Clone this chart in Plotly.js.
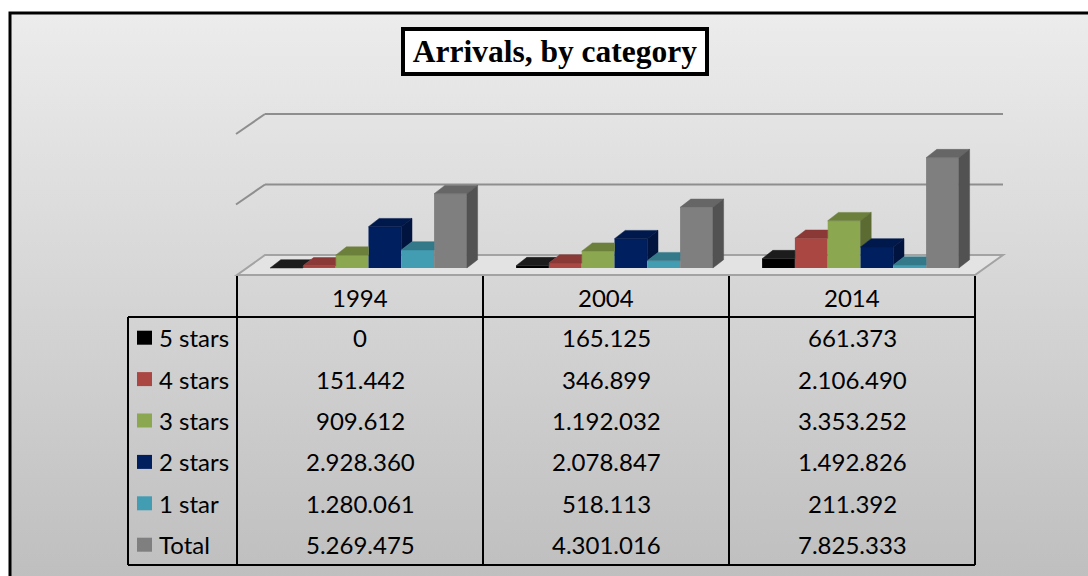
<!DOCTYPE html>
<html>
<head>
<meta charset="utf-8">
<script src="https://cdn.plot.ly/plotly-3.0.1.min.js"></script>
<style>
html,body{margin:0;padding:0;background:#fff;overflow:hidden;}
#chart{width:1088px;height:576px;}
</style>
</head>
<body>
<div id="chart"></div>
<script>
// ---------------- DATA ----------------
const categories = ['1994', '2004', '2014'];
const seriesNames = ['5 stars', '4 stars', '3 stars', '2 stars', '1 star', 'Total'];
const fiveStars  = [0, 165125, 661373];
const fourStars  = [151442, 346899, 2106490];
const threeStars = [909612, 1192032, 3353252];
const twoStars   = [2928360, 2078847, 1492826];
const oneStar    = [1280061, 518113, 211392];
const total      = [5269475, 4301016, 7825333];
const gridValues = [0, 5000000, 10000000];
const titleText  = 'Arrivals, by category';

const seriesValues = [fiveStars, fourStars, threeStars, twoStars, oneStar, total];

// ---------------- STYLE / GEOMETRY ----------------
const frontColors = ['#000000', '#AB4743', '#8BA74F', '#001F5E', '#429DB3', '#7F7F7F'];
const topColors   = ['#1c1c1c', '#8A3936', '#6C803C', '#00194C', '#33798A', '#666666'];
const sideColors  = ['#0f0f0f', '#722F2C', '#5B6B32', '#00143F', '#2B6776', '#525252'];

const W = 1088, H = 576;
const X0PX = 368.5, PXX = 246;        // pixel of first category centre, px per category
const Y0PX = 268, PXM = 14.1 / 1e6;   // pixel of value 0 (bar front base), px per unit value
const xr = [-X0PX / PXX, (W - X0PX) / PXX];
const yr = [-(H - Y0PX) / PXM, Y0PX / PXM];
const BARGAP = 0.2;
const DDX_PX = 10.7, DDY_PX = 8.3;     // bar depth projection
const PX = x => x / W;
const PY = y => 1 - y / H;

const fmt = v => String(v).replace(/\B(?=(\d{3})+(?!\d))/g, '.');

const xpos = categories.map((c, i) => i);

// ---------------- TRACES ----------------
const traces = [];
seriesNames.forEach((name, j) => {
  traces.push({
    type: 'bar', name: name, x: xpos, y: seriesValues[j],
    marker: {color: frontColors[j], line: {width: 0}},
    hoverinfo: 'skip', showlegend: false
  });
});

const nS = seriesNames.length;
const w = (1 - BARGAP) / nS;
const ddx = DDX_PX / PXX, ddy = DDY_PX / PXM;

seriesNames.forEach((name, j) => {
  const tx = [], ty = [], sx = [], sy = [];
  const vals = seriesValues[j];
  xpos.forEach((xc, i) => {
    const x0 = xc - (1 - BARGAP) / 2 + j * w;
    const x1 = x0 + w;
    const v = vals[i];
    const next = j < nS - 1 ? seriesValues[j + 1][i] : null;
    // top face
    let pts;
    if (next === null || next <= v) {
      pts = [[x0, v], [x1, v], [x1 + ddx, v + ddy], [x0 + ddx, v + ddy]];
    } else {
      const a = Math.min(next, v + ddy);
      const b = x1 + ddx * Math.max(0, v + ddy - next) / ddy;
      pts = [[x0, v], [x1, v], [x1, a], [b, v + ddy], [x0 + ddx, v + ddy]];
    }
    pts.push(pts[0]);
    pts.forEach(p => { tx.push(p[0]); ty.push(p[1]); });
    tx.push(null); ty.push(null);
    // side face
    const lo = next === null ? 0 : Math.max(next, 0);
    if (v > lo) {
      const sp = [[x1, lo], [x1, v], [x1 + ddx, v + ddy], [x1 + ddx, lo + ddy], [x1, lo]];
      sp.forEach(p => { sx.push(p[0]); sy.push(p[1]); });
      sx.push(null); sy.push(null);
    }
  });
  traces.push({
    type: 'scatter', mode: 'lines', x: tx, y: ty, fill: 'toself',
    fillcolor: topColors[j], line: {width: 0.5, color: topColors[j]},
    hoverinfo: 'skip', showlegend: false
  });
  if (sx.length) {
    traces.push({
      type: 'scatter', mode: 'lines', x: sx, y: sy, fill: 'toself',
      fillcolor: sideColors[j], line: {width: 0.5, color: sideColors[j]},
      hoverinfo: 'skip', showlegend: false
    });
  }
});

// ---------------- SHAPES ----------------
const shapes = [];
// floor
const FL = {fx0: 237, fx1: 975, fy: 275, bx0: 265, bx1: 1003, by: 255};
shapes.push({
  type: 'path', xref: 'paper', yref: 'paper', layer: 'below',
  path: `M ${PX(FL.fx0)},${PY(FL.fy)} L ${PX(FL.fx1)},${PY(FL.fy)} L ${PX(FL.bx1)},${PY(FL.by)} L ${PX(FL.bx0)},${PY(FL.by)} Z`,
  fillcolor: '#e3e3e3', line: {color: '#a3a3a3', width: 2}
});
// back-wall gridlines + left stubs
const backOff = (Y0PX - FL.by) / PXM;
const stubOff = (FL.fy - FL.by) / PXM;
gridValues.forEach(v => {
  if (v === 0) return;
  shapes.push({type: 'line', xref: 'paper', yref: 'y', layer: 'below',
    x0: PX(FL.bx0), x1: PX(FL.bx1), y0: v + backOff, y1: v + backOff,
    line: {color: '#8e8e8e', width: 2}});
  shapes.push({type: 'line', xref: 'paper', yref: 'y', layer: 'below',
    x0: PX(FL.fx0 - 1), x1: PX(FL.bx0), y0: v + backOff - stubOff, y1: v + backOff,
    line: {color: '#8e8e8e', width: 2}});
});
// outer frame
shapes.push({type: 'rect', xref: 'paper', yref: 'paper', layer: 'below',
  x0: PX(10), x1: PX(1110), y0: PY(13), y1: PY(600),
  line: {color: '#000', width: 3}, fillcolor: 'rgba(0,0,0,0)'});

// data table
const T = {labL: 128, colL: 237, colW: 246, top: 276, hdrB: 317, bot: 565, rowH: 41.4};
const nC = categories.length;
const tableR = T.colL + nC * T.colW;
const black = {color: '#000', width: 2};
for (let c = 0; c <= nC; c++) {
  const x = T.colL + c * T.colW;
  shapes.push({type: 'line', xref: 'paper', yref: 'paper', x0: PX(x), x1: PX(x), y0: PY(T.top), y1: PY(T.bot), line: black});
}
shapes.push({type: 'line', xref: 'paper', yref: 'paper', x0: PX(T.labL), x1: PX(T.labL), y0: PY(T.hdrB), y1: PY(T.bot), line: black});
shapes.push({type: 'line', xref: 'paper', yref: 'paper', x0: PX(T.labL), x1: PX(tableR), y0: PY(T.hdrB), y1: PY(T.hdrB), line: black});
shapes.push({type: 'line', xref: 'paper', yref: 'paper', x0: PX(T.labL), x1: PX(tableR), y0: PY(T.bot), y1: PY(T.bot), line: black});

// ---------------- ANNOTATIONS ----------------
const annotations = [];
annotations.push({
  xref: 'paper', yref: 'paper', x: PX(555), y: PY(51.5), xanchor: 'center', yanchor: 'middle',
  text: '<b>' + titleText + '</b>', showarrow: false,
  font: {family: 'Liberation Serif, Times New Roman, serif', size: 31.5, color: '#000'},
  bgcolor: '#ffffff', bordercolor: '#000', borderwidth: 4, borderpad: 0, width: 300, height: 41
});
const cellFont = {family: 'Lato, Open Sans, sans-serif', size: 24, color: '#000'};
categories.forEach((c, i) => {
  annotations.push({xref: 'paper', yref: 'paper', x: PX(T.colL + (i + 0.5) * T.colW), y: PY((T.top + T.hdrB) / 2 + 1),
    xanchor: 'center', yanchor: 'middle', text: c, showarrow: false, font: cellFont});
});
seriesNames.forEach((name, j) => {
  const yc = T.hdrB + (j + 0.5) * T.rowH;
  shapes.push({type: 'rect', xref: 'paper', yref: 'paper', x0: PX(137), x1: PX(152), y0: PY(yc - 7), y1: PY(yc + 7),
    fillcolor: frontColors[j], line: {width: 0}});
  annotations.push({xref: 'paper', yref: 'paper', x: PX(157), y: PY(yc), xanchor: 'left', yanchor: 'middle',
    text: name, showarrow: false, font: cellFont});
  seriesValues[j].forEach((v, i) => {
    annotations.push({xref: 'paper', yref: 'paper', x: PX(T.colL + (i + 0.5) * T.colW), y: PY(yc),
      xanchor: 'center', yanchor: 'middle', text: fmt(v), showarrow: false, font: cellFont});
  });
});

// ---------------- BACKGROUND GRADIENT ----------------
const svg = "<svg xmlns='http://www.w3.org/2000/svg' width='100' height='100' preserveAspectRatio='none'>" +
  "<defs><linearGradient id='g' x1='0' y1='0' x2='0' y2='1'>" +
  "<stop offset='0' stop-color='#ececec'/><stop offset='1' stop-color='#bfbfbf'/>" +
  "</linearGradient></defs><rect width='100' height='100' fill='url(#g)'/></svg>";
const images = [{
  source: 'data:image/svg+xml;charset=utf-8,' + encodeURIComponent(svg),
  xref: 'paper', yref: 'paper', x: PX(10), y: PY(13), sizex: (W - 10) / W, sizey: (H - 13) / H,
  xanchor: 'left', yanchor: 'top', sizing: 'stretch', layer: 'below'
}];

const layout = {
  width: W, height: H, autosize: false,
  margin: {l: 0, r: 0, t: 0, b: 0, pad: 0},
  paper_bgcolor: '#ffffff', plot_bgcolor: 'rgba(0,0,0,0)',
  barmode: 'group', bargap: BARGAP, bargroupgap: 0,
  showlegend: false,
  xaxis: {range: xr, visible: false, fixedrange: true},
  yaxis: {range: yr, visible: false, fixedrange: true},
  shapes: shapes, annotations: annotations, images: images
};

Plotly.newPlot('chart', traces, layout, {staticPlot: true, displayModeBar: false});
</script>
</body>
</html>
